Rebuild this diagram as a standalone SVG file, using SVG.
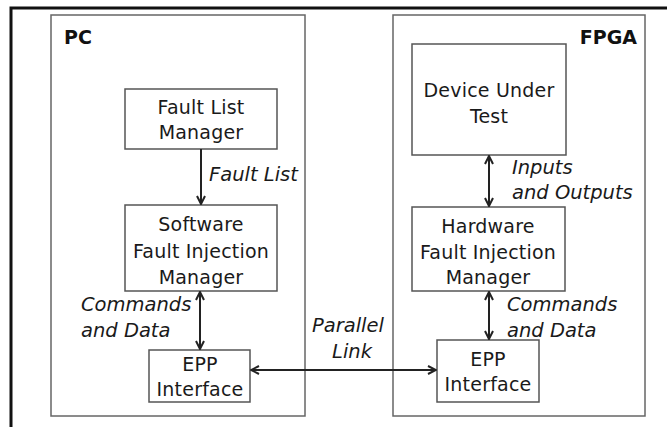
<svg xmlns="http://www.w3.org/2000/svg" width="667" height="427" viewBox="0 0 667 427">
<defs>
<style>
.frame{fill:none;stroke:#111;stroke-width:3}
.cont{fill:#fff;stroke:#666;stroke-width:1.5}
.box{fill:#fff;stroke:#555;stroke-width:1.5}
.t{font-family:"DejaVu Sans",Verdana,sans-serif;font-size:19px;fill:#1a1a1a;text-anchor:middle;letter-spacing:0.2px}
.l{font-family:"DejaVu Sans",Verdana,sans-serif;font-size:19.5px;font-style:italic;fill:#1a1a1a}
.h{font-family:"DejaVu Sans",Verdana,sans-serif;font-size:19px;font-weight:bold;fill:#111}
.c{fill:none;stroke:#222;stroke-width:2}
</style>
<marker id="ah" viewBox="0 0 10 10" refX="9" refY="5" markerWidth="5" markerHeight="5" orient="auto-start-reverse" markerUnits="strokeWidth">
<path d="M1,1 L9,5 L1,9" fill="none" stroke="#222" stroke-width="2"/>
</marker>
</defs>
<rect width="667" height="427" fill="#fff"/>
<path class="frame" d="M11,427 V8 H667"/>
<g id="pc">
<rect class="cont" x="51" y="15" width="254" height="401"/>
<text class="h" x="64" y="44">PC</text>
</g>
<g id="fpga">
<rect class="cont" x="393" y="15" width="252" height="401"/>
<text class="h" x="637" y="44" text-anchor="end">FPGA</text>
</g>
<g id="flm">
<rect class="box" x="125" y="89" width="152" height="60"/>
<text class="t" x="201" y="114">Fault List</text>
<text class="t" x="201" y="139">Manager</text>
</g>
<g id="sfim">
<rect class="box" x="125" y="205" width="152" height="86"/>
<text class="t" x="201" y="231">Software</text>
<text class="t" x="201" y="258">Fault Injection</text>
<text class="t" x="201" y="284">Manager</text>
</g>
<g id="epp1">
<rect class="box" x="149" y="350" width="101" height="52"/>
<text class="t" x="200" y="371">EPP</text>
<text class="t" x="200" y="396">Interface</text>
</g>
<g id="dut">
<rect class="box" x="412" y="44" width="154" height="111"/>
<text class="t" x="489" y="97">Device Under</text>
<text class="t" x="489" y="123">Test</text>
</g>
<g id="hfim">
<rect class="box" x="412" y="207" width="153" height="84"/>
<text class="t" x="488" y="233">Hardware</text>
<text class="t" x="488" y="259">Fault Injection</text>
<text class="t" x="488" y="284">Manager</text>
</g>
<g id="epp2">
<rect class="box" x="437" y="340" width="102" height="62"/>
<text class="t" x="488" y="366">EPP</text>
<text class="t" x="488" y="391">Interface</text>
</g>
<g id="connectors">
<line class="c" x1="201" y1="149" x2="201" y2="204" marker-end="url(#ah)"/>
<text class="l" x="209" y="181">Fault List</text>
<line class="c" x1="200" y1="292" x2="200" y2="349" marker-start="url(#ah)" marker-end="url(#ah)"/>
<text class="l" x="81" y="311">Commands</text>
<text class="l" x="81" y="337">and Data</text>
<line class="c" x1="489" y1="156" x2="489" y2="206" marker-start="url(#ah)" marker-end="url(#ah)"/>
<text class="l" x="512" y="174">Inputs</text>
<text class="l" x="512" y="199">and Outputs</text>
<line class="c" x1="489" y1="292" x2="489" y2="339" marker-start="url(#ah)" marker-end="url(#ah)"/>
<text class="l" x="507" y="311">Commands</text>
<text class="l" x="507" y="337">and Data</text>
<line class="c" x1="251" y1="370" x2="436" y2="370" marker-start="url(#ah)" marker-end="url(#ah)"/>
<text class="l" x="348" y="332" text-anchor="middle">Parallel</text>
<text class="l" x="352" y="358" text-anchor="middle">Link</text>
</g>
</svg>
